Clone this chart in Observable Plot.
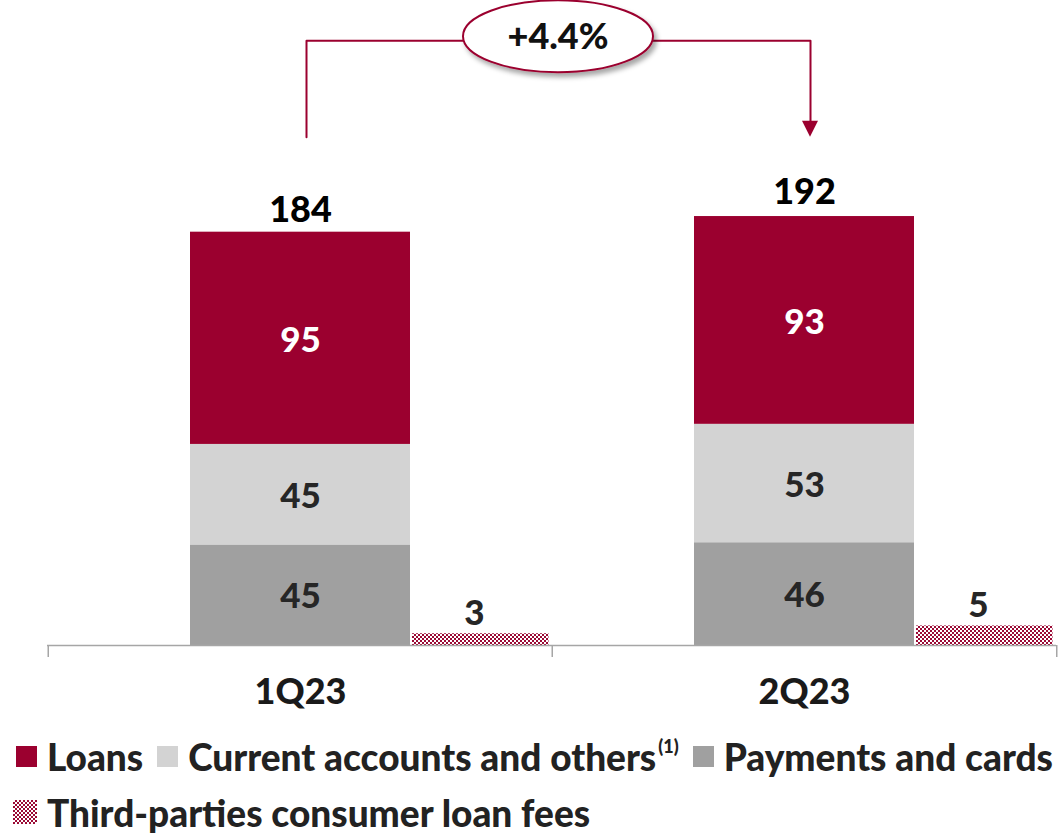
<!DOCTYPE html>
<html>
<head>
<meta charset="utf-8">
<script src="https://cdn.jsdelivr.net/npm/d3@7"></script>
<script src="https://cdn.jsdelivr.net/npm/@observablehq/plot@0.6"></script>
<style>
  body { margin: 0; background: #fff; font-family: Lato, "Open Sans", sans-serif; }
  #chart svg { display: block; }
  .legend { font-family: Lato, sans-serif; font-weight: 900; font-size: 37px; color: #222; padding-left: 16px; padding-top: 8px; }
  .row { display: flex; align-items: center; height: 56px; white-space: nowrap; }
  .item { display: flex; align-items: center; margin-right: 14px; }
  .sw { width: 21px; height: 21px; margin-right: 10px; flex: none; }
  .sw.hatch { width: 24px; height: 24px; margin-left: -3px; background-image: repeating-conic-gradient(#9b0a35 0% 25%, #fff 0% 50%); background-size: 4px 4px; }
  sup { font-size: 18px; position: relative; top: -10px; margin-left: 2px; }
</style>
</head>
<body>
<div id="chart"></div>
<div class="legend">
  <div class="row">
    <div class="item"><div class="sw" style="background:#9b002f"></div>Loans</div>
    <div class="item"><div class="sw" style="background:#d3d3d3"></div>Current accounts and others<sup>(1)</sup></div>
    <div class="item"><div class="sw" style="background:#a0a0a0"></div>Payments and cards</div>
  </div>
  <div class="row">
    <div class="item"><div class="sw hatch"></div>Third-parties consumer loan fees</div>
  </div>
</div>
<script>
// ---- data ----
const quarters = ["1Q23", "2Q23"];
const series = ["Payments and cards", "Current accounts and others", "Loans"];
const payments = [45, 46];
const currentAccounts = [45, 53];
const loans = [95, 93];
const totals = [184, 192];
const thirdParty = [3, 5];
const growthLabel = "+4.4%";
const seriesColors = ["#a0a0a0", "#d3d3d3", "#9b002f"];

const CRIMSON = "#9b002f";
const FW = 900;
const THIRD_SCALE = 1.75; // visual exaggeration of the small side bars as in the original

const rows = [];
quarters.forEach((q, i) => {
  rows.push({quarter: q, series: series[0], value: payments[i]});
  rows.push({quarter: q, series: series[1], value: currentAccounts[i]});
  rows.push({quarter: q, series: series[2], value: loans[i]});
});
const totalRows = quarters.map((q, i) => ({quarter: q, value: totals[i]}));
const thirdRows = quarters.map((q, i) => ({quarter: q, value: thirdParty[i]}));

const W = 1064, H = 720, ML = 47, MR = 8, MB = 75, MT = 0;
const bw = (W - ML - MR) / quarters.length;
const maxTotal = d3.max(totals);
const yMax = 288.7;
const bracketStart = maxTotal * 1.185;
const bracketTop = maxTotal * 1.41;

const bracket = [
  {quarter: quarters[0], value: bracketStart},
  {quarter: quarters[0], value: bracketTop},
  {quarter: quarters[1], value: bracketTop},
  {quarter: quarters[1], value: bracketStart + 7}
];

const plot = Plot.plot({
  width: W, height: H,
  marginLeft: ML, marginRight: MR, marginTop: MT, marginBottom: MB,
  x: {type: "band", domain: quarters, padding: 0, axis: null},
  y: {domain: [0, yMax], axis: null},
  color: {domain: series, range: seriesColors},
  style: {fontFamily: "Lato, sans-serif", overflow: "visible"},
  marks: [
    Plot.barY(rows, Plot.stackY({x: "quarter", y: "value", fill: "series", insetLeft: 142, insetRight: 142})),
    Plot.barY(thirdRows, {x: "quarter", y: d => d.value * THIRD_SCALE, fill: "url(#checker)", insetLeft: 364, insetRight: 3.5}),
    Plot.ruleY([0], {stroke: "#a6a6a6", strokeWidth: 1.5}),
    Plot.ruleX(quarters, {x: d => d, dx: -bw / 2, y1: 0, y2: -5.4, stroke: "#a6a6a6", strokeWidth: 1.5}),
    Plot.ruleX([quarters[quarters.length - 1]], {x: d => d, dx: bw / 2, y1: 0, y2: -5.4, stroke: "#a6a6a6", strokeWidth: 1.5}),
    Plot.text(rows, Plot.stackY({x: "quarter", y: "value", text: d => d.series === "Loans" ? d.value : "", dy: 2, fill: "#fff", fontSize: 35, fontWeight: FW})),
    Plot.text(rows, Plot.stackY({x: "quarter", y: "value", text: d => d.series !== "Loans" ? d.value : "", dy: 2, fill: "#262626", fontSize: 35, fontWeight: FW})),
    Plot.text(totalRows, {x: "quarter", y: "value", text: "value", dy: -24, fill: "#000", fontSize: 36, fontWeight: FW}),
    Plot.text(thirdRows, {x: "quarter", y: d => d.value * THIRD_SCALE, text: "value", dx: 174, dy: -20, fill: "#262626", fontSize: 35, fontWeight: FW}),
    Plot.text(quarters, {x: d => d, y: 0, text: d => d, dy: 47, fill: "#1a1a1a", fontSize: 36, fontWeight: FW}),
    Plot.line(bracket, {x: "quarter", y: "value", dx: 6, stroke: CRIMSON, strokeWidth: 2, curve: "linear"})
  ]
});

// patterns, ellipse label and arrowhead, positioned with the plot's scales
const svg = d3.select(plot);
const defs = svg.insert("defs", ":first-child");
const pat = defs.append("pattern").attr("id", "checker").attr("patternUnits", "userSpaceOnUse")
  .attr("width", 4).attr("height", 4);
pat.append("rect").attr("width", 4).attr("height", 4).attr("fill", "#fff");
pat.append("rect").attr("width", 2).attr("height", 2).attr("fill", "#9b0a35");
pat.append("rect").attr("x", 2).attr("y", 2).attr("width", 2).attr("height", 2).attr("fill", "#9b0a35");
const f = defs.append("filter").attr("id", "shadow").attr("x", "-20%").attr("y", "-20%").attr("width", "150%").attr("height", "160%");
f.append("feDropShadow").attr("dx", 3).attr("dy", 4).attr("stdDeviation", 2.5).attr("flood-color", "#000").attr("flood-opacity", 0.35);

const xs = plot.scale("x"), ys = plot.scale("y");
const cx = q => xs.apply(q) + xs.bandwidth / 2 + 6;
const x0 = cx(quarters[0]), x1 = cx(quarters[1]);
const yTop = ys.apply(bracketTop);
const yTip = ys.apply(bracketStart);
const g = svg.append("g");
g.append("path")
  .attr("d", `M${x1 - 8},${yTip - 16}L${x1 + 8},${yTip - 16}L${x1},${yTip}Z`)
  .attr("fill", CRIMSON);
const ex = (x0 + x1) / 2, ey = yTop - 4;
g.append("ellipse").attr("cx", ex).attr("cy", ey).attr("rx", 95).attr("ry", 36)
  .attr("fill", "#fff").attr("stroke", CRIMSON).attr("stroke-width", 2).attr("filter", "url(#shadow)");
g.append("text").attr("x", ex).attr("y", ey).attr("dy", "0.36em").attr("text-anchor", "middle")
  .attr("font-family", "Lato, sans-serif").attr("font-weight", FW).attr("font-size", 36).attr("fill", "#111")
  .text(growthLabel);

document.getElementById("chart").appendChild(plot);
</script>
</body>
</html>
